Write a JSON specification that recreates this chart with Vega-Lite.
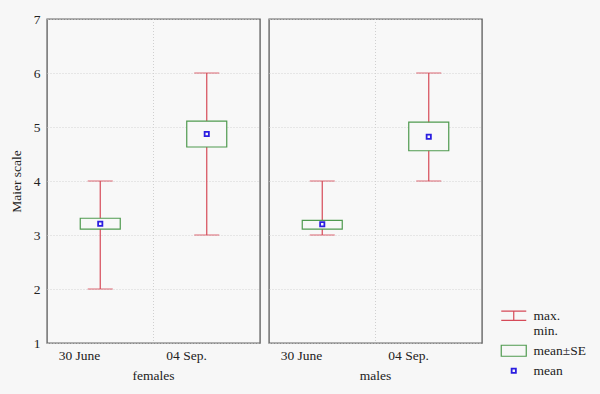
{
  "$schema": "https://vega.github.io/schema/vega-lite/v6.json",
  "background": "#f7f7f7",
  "padding": {"left": 9, "top": 12, "right": 15, "bottom": 16},
  "data": {"values": [
    {"sex": "females", "date": "30 June", "min": 2, "max": 4, "lo": 3.11, "hi": 3.31, "mean": 3.21},
    {"sex": "females", "date": "04 Sep.", "min": 3, "max": 6, "lo": 4.63, "hi": 5.11, "mean": 4.87},
    {"sex": "males", "date": "30 June", "min": 3, "max": 4, "lo": 3.11, "hi": 3.27, "mean": 3.20},
    {"sex": "males", "date": "04 Sep.", "min": 4, "max": 6, "lo": 4.56, "hi": 5.09, "mean": 4.82}
  ]},
  "facet": {"column": {"field": "sex", "type": "nominal", "title": null,
    "header": {"labelOrient": "bottom", "labelFont": "Liberation Serif", "labelFontSize": 13.5, "labelColor": "#222222", "labelPadding": 7}}},
  "spacing": 7,
  "spec": {
    "width": 213,
    "height": 324,
    "layer": [
      {
        "mark": {"type": "rule", "color": "#d0d0d0", "strokeDash": [1, 2], "strokeWidth": 1},
        "encoding": {
          "x": {"datum": "04 Sep.", "type": "nominal", "bandPosition": 0}
        }
      },
      {
        "mark": {"type": "rule", "strokeWidth": 1.2},
        "encoding": {
          "x": {"field": "date", "type": "nominal", "sort": ["30 June", "04 Sep."],
            "scale": {"paddingInner": 0, "paddingOuter": 0},
            "axis": {"title": null, "labelAngle": 0, "ticks": false, "domain": false, "grid": false, "labelPadding": 10}},
          "y": {"field": "min", "type": "quantitative",
            "scale": {"domain": [1, 7], "nice": false, "zero": false},
            "axis": {"title": "Maier scale", "values": [1, 2, 3, 4, 5, 6, 7], "format": "d", "ticks": false, "domain": false, "labelPadding": 6, "titlePadding": 10}},
          "y2": {"field": "max"},
          "stroke": {"datum": "max.|min.", "type": "nominal",
            "scale": {"domain": ["max.|min.", "mean±SE", "mean"], "range": ["#d64a58", "#4f9a4f", "#2b1ee0"]},
            "legend": {
              "title": null,
              "orient": "none",
              "legendX": 460,
              "legendY": 290,
              "labelFont": "Liberation Serif",
              "labelFontSize": 13.5,
              "labelColor": "#222222",
              "labelOffset": 13,
              "rowPadding": 4,
              "symbolSize": 625,
              "labelExpr": "split(datum.label, '|')",
              "encode": {"symbols": {"update": {
                "shape": {"signal": "datum.value === 'mean' ? 'square' : datum.value === 'mean±SE' ? 'M-1,-0.44H1V0.44H-1Z' : 'M-1,-0.375H1M0,-0.375V0.375M-1,0.375H1'"},
                "size": {"signal": "datum.value === 'mean' ? 18 : 625"},
                "strokeWidth": {"signal": "datum.value === 'mean' ? 1.8 : 1.2"},
                "fill": {"value": "transparent"}
              }}}
            }}
        }
      },
      {
        "mark": {"type": "tick", "orient": "horizontal", "size": 25, "thickness": 1.2},
        "encoding": {
          "x": {"field": "date", "type": "nominal", "sort": ["30 June", "04 Sep."]},
          "y": {"field": "min", "type": "quantitative"},
          "color": {"value": "#d64a58"}
        }
      },
      {
        "mark": {"type": "tick", "orient": "horizontal", "size": 25, "thickness": 1.2},
        "encoding": {
          "x": {"field": "date", "type": "nominal", "sort": ["30 June", "04 Sep."]},
          "y": {"field": "max", "type": "quantitative"},
          "color": {"value": "#d64a58"}
        }
      },
      {
        "mark": {"type": "bar", "width": 40, "fill": "#f8f8f8", "strokeWidth": 1.2},
        "encoding": {
          "x": {"field": "date", "type": "nominal", "sort": ["30 June", "04 Sep."]},
          "y": {"field": "lo", "type": "quantitative"},
          "y2": {"field": "hi"},
          "stroke": {"datum": "mean±SE", "type": "nominal"}
        }
      },
      {
        "mark": {"type": "point", "shape": "square", "size": 18, "filled": false, "strokeWidth": 1.8, "opacity": 1},
        "encoding": {
          "x": {"field": "date", "type": "nominal", "sort": ["30 June", "04 Sep."]},
          "y": {"field": "mean", "type": "quantitative"},
          "stroke": {"datum": "mean", "type": "nominal"}
        }
      }
    ]
  },
  "config": {
    "font": "Liberation Serif",
    "view": {"stroke": "#666666", "strokeWidth": 1.4, "fill": "#f8f8f8"},
    "axis": {"labelFont": "Liberation Serif", "labelFontSize": 13.5, "labelColor": "#222222",
      "titleFont": "Liberation Serif", "titleFontSize": 13.5, "titleFontWeight": "normal", "titleColor": "#222222",
      "gridColor": "#d4d4d4", "gridDash": [1, 2], "gridWidth": 1}
  }
}
